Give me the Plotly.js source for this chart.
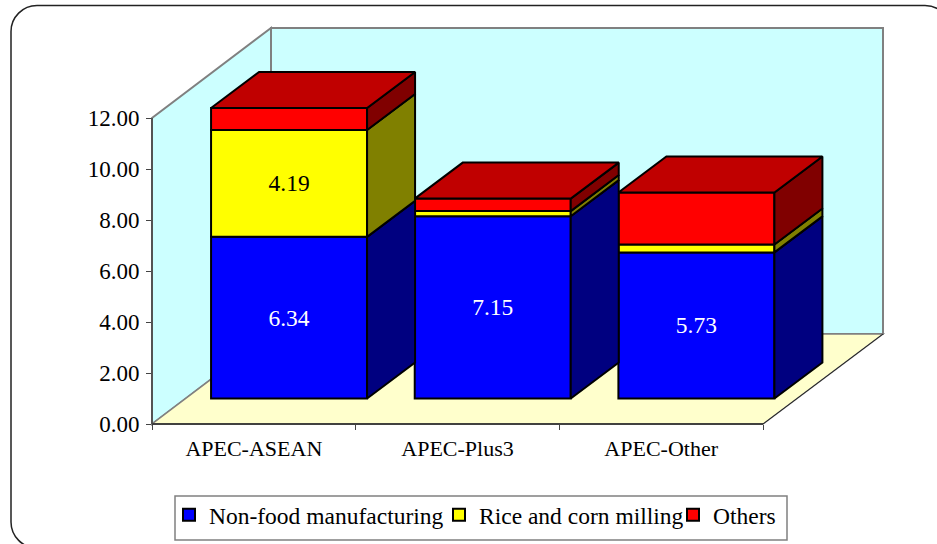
<!DOCTYPE html>
<html><head><meta charset="utf-8">
<script src="https://cdn.plot.ly/plotly-3.0.1.min.js"></script>
<style>html,body{margin:0;padding:0;background:#fff;overflow:hidden}</style>
</head><body><div id="chart" style="width:937px;height:544px"></div>
<script>
const categories = ["APEC-ASEAN", "APEC-Plus3", "APEC-Other"];
const nonFood = [6.34, 7.15, 5.73];
const riceCorn = [4.19, 0.20, 0.31];
const others = [0.86, 0.49, 2.04];
const nonFoodLabels = ["6.34", "7.15", "5.73"];
const riceCornLabels = ["4.19", "", ""];
const othersLabels = ["", "", ""];
const seriesNames = ["Non-food manufacturing", "Rice and corn milling", "Others"];
const frontColors = ["#0000FF", "#FFFF00", "#FF0000"];
const sideColors = ["#000080", "#808000", "#800000"];
const topColor = "#C00000";
const yTicks = [0, 2, 4, 6, 8, 10, 12];

// geometry of the pseudo-3D projection, in pixels of the page
const L = 152, R = 763, RB = 883, T = 118, B = 424, TB = 28, W = 937, H = 544;
const catPx = (R - L) / 3, valPx = (B - T) / 12;
const fx = p => (p - L) / (RB - L), fy = p => (B - p) / (B - TB);
const xRange = [-0.5, -0.5 + (RB - L) / catPx], yRange = [0, (B - TB) / valPx];
const barOffset = -0.21, barWidth = 0.766, floorLift = 1.0;
const depthX = 48 / catPx, depthY = 36 / valPx;
const font = "'Liberation Serif','Times New Roman',serif";

const values = [nonFood, riceCorn, others];
const labels = [nonFoodLabels, riceCornLabels, othersLabels];
const base = categories.map(() => floorLift);
const traces = [], faces = [];
values.forEach((vals, s) => {
  const bases = base.slice();
  traces.push({
    type: "bar", name: seriesNames[s], x: categories, y: vals, base: bases,
    width: barWidth, offset: barOffset, cliponaxis: false,
    marker: {color: frontColors[s], line: {color: "#000", width: 2}},
    text: labels[s], textposition: "inside", insidetextanchor: "middle", textangle: 0,
    constraintext: "none", textfont: {family: font, size: 23.5, color: s === 0 ? "#fff" : "#000"},
    hoverinfo: "name+y", legend: s === 0 ? "legend" : "legend" + (s + 1)
  });
  vals.forEach((v, i) => {
    const xr = i + barOffset + barWidth, y0 = bases[i], y1 = bases[i] + v;
    faces.push({
      x: [xr, xr + depthX, xr + depthX, xr, xr],
      y: [y0, y0 + depthY, y1 + depthY, y1, y0],
      color: sideColors[s]
    });
    base[i] = y1;
  });
});
categories.forEach((c, i) => {
  const xl = i + barOffset, xr = xl + barWidth, y = base[i];
  faces.push({
    x: [xl, xr, xr + depthX, xl + depthX, xl],
    y: [y, y, y + depthY, y + depthY, y],
    color: topColor
  });
});
faces.forEach(f => traces.push({
  type: "scatter", mode: "lines", xaxis: "x2", yaxis: "y", x: f.x, y: f.y,
  fill: "toself", fillcolor: f.color, line: {color: "#000", width: 2},
  cliponaxis: false, showlegend: false, hoverinfo: "skip"
}));

const poly = (pts) => "M" + pts.map(p => fx(p[0]) + "," + fy(p[1])).join("L") + "Z";
const seg = (a, b) => "M" + fx(a[0]) + "," + fy(a[1]) + "L" + fx(b[0]) + "," + fy(b[1]);
const grayLine = {color: "#808080", width: 2};
const rr = {l: 11, t: 5.5, r: 951, b: 548, c: 26, k: 11.7};
const pt = (x, y) => fx(x) + "," + fy(y);
const border = "M" + pt(rr.l, rr.b - rr.c) + "L" + pt(rr.l, rr.t + rr.c) +
  "C" + pt(rr.l, rr.t + rr.k) + " " + pt(rr.l + rr.k, rr.t) + " " + pt(rr.l + rr.c, rr.t) +
  "L" + pt(rr.r - rr.c, rr.t) +
  "C" + pt(rr.r - rr.k, rr.t) + " " + pt(rr.r, rr.t + rr.k) + " " + pt(rr.r, rr.t + rr.c) +
  "L" + pt(rr.r, rr.b - rr.c) +
  "C" + pt(rr.r, rr.b - rr.k) + " " + pt(rr.r - rr.k, rr.b) + " " + pt(rr.r - rr.c, rr.b) +
  "L" + pt(rr.l + rr.c, rr.b) +
  "C" + pt(rr.l + rr.k, rr.b) + " " + pt(rr.l, rr.b - rr.k) + " " + pt(rr.l, rr.b - rr.c) + "Z";
const shape = (path, fill, line) => ({type: "path", xref: "paper", yref: "paper", layer: "below",
  path, fillcolor: fill, line});
const none = "rgba(0,0,0,0)";
const shapes = [
  shape(border, "#FFFFFF", {color: "#222", width: 1.5}),
  shape(poly([[L, B], [L, T], [271, TB], [271, 334]]), "#CCFFFF", grayLine),
  shape(poly([[271, TB], [RB, TB], [RB, 334], [271, 334]]), "#CCFFFF", grayLine),
  shape(poly([[L, B], [271, 334], [RB, 334], [R, B]]), "#FFFFCC", {color: "#808080", width: 1.5}),
  shape(seg([R, B], [RB, 334]), none, {color: "#222", width: 1}),
  shape(seg([L, B], [R, B]), none, {color: "#222", width: 1.5}),
  shape(seg([L, T], [L, B]), none, {color: "#444", width: 1.5}),
  shape(poly([[175, 496], [787, 496], [787, 540], [175, 540]]), "#FFFFFF", {color: "#808080", width: 1.5})
];
const legendAt = (px) => ({x: fx(px), y: fy(493), xanchor: "left", yanchor: "top",
  bgcolor: none, borderwidth: 0, font: {family: font, size: 23.5, color: "#000"}});

Plotly.newPlot("chart", traces, {
  width: W, height: H, paper_bgcolor: "#fff", plot_bgcolor: none,
  margin: {l: L, r: W - RB, t: TB, b: H - B, pad: 0, autoexpand: false},
  barmode: "overlay", showlegend: true, shapes,
  legend: legendAt(169), legend2: legendAt(439), legend3: legendAt(673),
  xaxis: {type: "category", categoryorder: "array", categoryarray: categories, range: xRange,
    tickson: "boundaries", ticks: "outside", ticklen: 5, tickwidth: 1, tickcolor: "#444",
    ticklabelstandoff: 9, showline: false, showgrid: false, zeroline: false, automargin: false,
    tickfont: {family: font, size: 22, color: "#000"}, fixedrange: true},
  xaxis2: {overlaying: "x", anchor: "y", range: xRange, visible: false, type: "linear", fixedrange: true},
  yaxis: {range: yRange, tickmode: "array", tickvals: yTicks, tickformat: ".2f", ticks: "outside", ticklen: 5, tickwidth: 1,
    ticklabelstandoff: 2, ticklabelshift: -1.5,
    tickcolor: "#444", showline: false, showgrid: false, zeroline: false, automargin: false,
    tickfont: {family: font, size: 23, color: "#000"}, fixedrange: true}
}, {displayModeBar: false, responsive: false});
</script></body></html>
